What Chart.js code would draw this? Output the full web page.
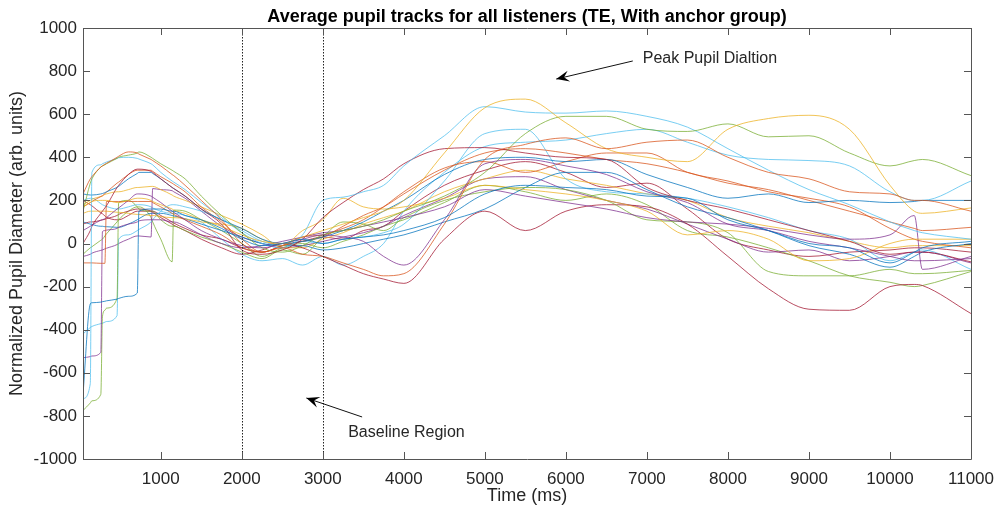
<!DOCTYPE html>
<html>
<head>
<meta charset="utf-8">
<script src="https://cdn.jsdelivr.net/npm/chart.js@4.4.1/dist/chart.umd.min.js"></script>
<style>
  html, body { margin: 0; background: #fff; }
</style>
</head>
<body>
<canvas id="chart" width="1004" height="515"></canvas>
<script>
// sample times (ms), shared by every listener track
const time = [
  40, 130, 150, 260, 280, 310, 330, 460, 480, 600, 710, 730, 880, 900, 1000, 1140, 1160, 1300,
  1500, 1750, 2000, 2250, 2500, 2750, 3000, 3250, 3500, 3750, 4000,
  4500, 5000, 5500, 6000, 6500, 7000, 7500, 8000, 8500, 9000, 9500, 10000, 10300, 10400, 11000
];

// normalized pupil diameter per listener
const lb1 = [-720, -650, 330, 365, 370, 375, 378, 395, 398, 400, 395, 392, 370, 365, 330, 290, 285, 250,
  190, 120, 50, 0, -20, 40, 200, 215, 240, 270, 360,
  500, 635, 610, 605, 615, 590, 540, 440, 340, 250, 180, 100, 60, 50, 20];
const yel1 = [170, 190, 195, 200, 200, 200, 200, 190, 190, 200, 210, 210, 200, 195, 180, 160, 155, 140,
  110, 80, 40, 10, 0, 30, 60, 90, 120, 150, 200,
  420, 630, 670, 560, 440, 400, 380, 530, 580, 595, 530, 270, 150, 140, 165];
const grn1 = [150, 280, 300, 355, 360, 365, 370, 395, 400, 410, 420, 425, 400, 395, 370, 340, 335, 300,
  220, 130, 50, -20, -40, -10, 40, 60, 80, 110, 150,
  220, 330, 510, 590, 590, 530, 520, 555, 495, 500, 420, 360, 385, 390, 315];
const lb2 = [-420, -390, -385, -372, -370, -365, -362, -335, 20, 40, 60, 65, 100, 110, 150, 180, 180, 170,
  150, 110, 60, 10, -10, 10, 0, 20, 30, 50, 90,
  290, 510, 530, 300, 240, 230, 210, 170, 120, 60, 20, -80, -40, -30, -120];
const lb3 = [200, 210, 210, 185, 180, 175, 172, 160, 160, 170, 180, 180, 170, 165, 150, 140, 140, 130,
  100, 20, -50, -80, -70, -100, -60, -100, -60, 0, 150,
  330, 450, 470, 480, 510, 530, 470, 410, 390, 385, 360, 240, 200, 200, 290];
const dr1 = [0, 60, 80, 140, 150, 165, 175, 260, 270, 320, 345, 345, 335, 330, 300, 260, 255, 220,
  160, 90, -30, -50, -30, 20, 120, 190, 250, 300, 370,
  440, 445, 420, 400, 390, 260, 200, 160, 110, 60, 10, -50, -40, -40, -85];
const dr2 = [90, 100, 100, 108, 110, 112, 115, 130, 135, 150, 160, 160, 150, 145, 120, 90, 85, 60,
  20, -20, -50, -30, 0, -20, -60, -100, -140, -165, -185,
  20, 150, 60, 150, 180, 170, 90, -60, -210, -305, -310, -200, -190, -195, -325];
const or1 = [230, 300, 310, 355, 360, 368, 372, 400, 405, 425, 420, 415, 390, 385, 360, 320, 315, 270,
  200, 110, 0, -40, -20, -50, -60, -90, -120, -150, -140,
  90, 390, 460, 490, 440, 470, 480, 400, 330, 300, 240, 230, 200, 200, 150];
const pu1 = [60, 80, 85, 108, 110, 115, 120, 160, 165, 200, 230, 230, 220, 215, 190, 150, 145, 110,
  60, 20, -10, -20, 0, 20, 40, 30, 10, -60, -100,
  110, 370, 390, 360, 320, 240, 190, 90, 60, 10, -20, -60, -80, -80, -70];
const pu2 = [-530, -525, -522, -505, 55, 60, 62, 70, 75, 90, 100, 105, 110, 110, 110, 100, 100, 80,
  40, 0, -20, -10, 10, 30, 50, 60, 80, 100, 120,
  170, 250, 220, 190, 160, 120, 100, 90, 70, 40, 20, 40, 130, -120, -60];
const pu3 = [-60, -50, -45, -32, -30, -25, -22, -5, 0, 20, 35, 35, 30, 255, 250, 245, 240, 210,
  150, 80, 30, 0, -20, -10, 10, 30, 50, 80, 130,
  210, 300, 310, 250, 200, 160, 90, 20, -40, -30, -80, -60, -40, -40, -90];
const bl1 = [-700, -280, -275, -272, -270, -268, -266, -258, -255, -245, -230, 150, 160, 160, 160, 150, 150, 130,
  110, 70, 20, -10, 0, 20, 0, 20, 30, 40, 60,
  120, 230, 270, 260, 250, 220, 210, 110, 60, 0, -20, -90, -40, -20, 10];
const bl2 = [230, 225, 225, 230, 232, 236, 240, 260, 265, 300, 325, 330, 330, 325, 300, 260, 255, 220,
  160, 110, 70, 20, 0, 10, 30, 60, 100, 150, 200,
  320, 390, 400, 380, 390, 320, 260, 210, 230, 190, 200, 190, 195, 200, 200];
const bl3 = [100, 90, 88, 80, 80, 78, 78, 75, 75, 90, 110, 115, 140, 140, 140, 130, 128, 115,
  90, 60, 30, 0, -10, -10, -30, -20, 0, 20, 40,
  100, 160, 260, 330, 330, 250, 170, 120, 60, -10, -50, -110, -60, -40, 0];
const or2 = [-90, -90, -90, -92, -92, -92, 195, 195, 195, 195, 195, 195, 195, 190, 170, 140, 135, 110,
  80, 40, -20, -40, -10, 10, 30, 80, 130, 170, 230,
  340, 420, 440, 420, 390, 370, 330, 280, 250, 200, 150, 100, 70, 60, 75];
const gr2 = [-775, -740, -730, -700, -340, -310, -300, -255, 190, 200, 170, 160, 150, 150, 110, 80, 80, 60,
  30, 0, -40, -70, -30, -50, 30, 100, 90, 60, 120,
  200, 240, 260, 250, 200, 110, 100, 50, -130, -150, -150, -120, -140, -140, -125];
const gr3 = [-50, -20, -15, 15, 20, 35, 45, 100, 110, 150, 170, 170, 120, 100, 20, -85, 155, 150,
  110, 60, 0, -60, -20, 0, -20, 10, 40, 80, 110,
  190, 270, 240, 200, 230, 180, 60, 30, -20, -80, -150, -180, -200, -195, -130];
const yel2 = [140, 150, 150, 150, 150, 150, 150, 145, 145, 140, 135, 135, 130, 130, 125, 120, 120, 115,
  100, 90, 70, 20, -10, 60, 110, 210, 170, 160, 170,
  210, 270, 250, 230, 200, 150, 40, 60, 20, -80, -70, 0, 20, 20, 20];
const yel3 = [180, 200, 205, 218, 220, 228, 230, 240, 240, 250, 260, 260, 265, 265, 250, 225, 220, 200,
  170, 130, 90, 40, -20, -20, 20, 50, 90, 120, 150,
  240, 300, 340, 300, 270, 230, 200, 120, 80, 50, 10, -20, -10, -10, -10];
const or3 = [170, 190, 195, 218, 222, 232, 238, 280, 285, 320, 340, 340, 340, 335, 310, 280, 275, 240,
  170, 100, 20, -40, -10, 30, 40, 70, 110, 170, 240,
  350, 380, 330, 380, 420, 420, 330, 290, 240, 210, 170, 70, 20, 10, -20];
const dr3 = [200, 180, 175, 142, 138, 128, 122, 110, 110, 130, 150, 150, 150, 150, 130, 100, 95, 70,
  40, 20, -20, -40, -10, 10, 30, 20, 60, 80, 150,
  270, 340, 380, 330, 260, 280, 160, 20, -30, -60, -40, -30, -20, -20, -40];

const tracks = [bl1, or1, yel1, pu1, grn1, lb1, dr1,
                bl2, or2, yel2, pu2, gr2, lb2, dr2,
                bl3, or3, yel3, pu3, gr3, lb3, dr3];

// MATLAB default line colours
const colors = ['#0072BD', '#D95319', '#EDB120', '#7E2F8E', '#77AC30', '#4DBEEE', '#A2142F'];

const xTicks = [1000, 2000, 3000, 4000, 5000, 6000, 7000, 8000, 9000, 10000, 11000];
const yTicks = [-1000, -800, -600, -400, -200, 0, 200, 400, 600, 800, 1000];
const baseline = [2000, 3000];

const FONT = '"Liberation Sans", Arial, Helvetica, sans-serif';
const INK = '#262626';

function arrow(ctx, x1, y1, x2, y2) {
  ctx.beginPath();
  ctx.moveTo(x1, y1);
  ctx.lineTo(x2, y2);
  ctx.stroke();
  const a = Math.atan2(y2 - y1, x2 - x1);
  const len = 13, half = 5.5, notch = 8;
  const bx = x2 - len * Math.cos(a), by = y2 - len * Math.sin(a);
  const nx = x2 - notch * Math.cos(a), ny = y2 - notch * Math.sin(a);
  const px = -Math.sin(a), py = Math.cos(a);
  ctx.beginPath();
  ctx.moveTo(x2, y2);
  ctx.lineTo(bx + px * half, by + py * half);
  ctx.lineTo(nx, ny);
  ctx.lineTo(bx - px * half, by - py * half);
  ctx.closePath();
  ctx.fill();
}

const decor = {
  id: 'decor',
  afterDatasetsDraw(chart) {
    const { ctx, chartArea: a, scales: { x, y } } = chart;
    ctx.save();

    // dotted markers of the baseline window
    ctx.strokeStyle = '#222';
    ctx.lineWidth = 1;
    ctx.setLineDash([1.5, 1.5]);
    baseline.forEach(t => {
      const px = Math.round(x.getPixelForValue(t)) + 0.5;
      ctx.beginPath();
      ctx.moveTo(px, a.top);
      ctx.lineTo(px, a.bottom);
      ctx.stroke();
    });
    ctx.setLineDash([]);

    // box with inward ticks
    ctx.strokeStyle = '#555';
    ctx.beginPath();
    ctx.rect(Math.round(a.left) + 0.5, Math.round(a.top) + 0.5,
             Math.round(a.right - a.left), Math.round(a.bottom - a.top));
    ctx.stroke();
    const tl = 7;
    ctx.beginPath();
    xTicks.forEach(t => {
      const px = Math.round(x.getPixelForValue(t)) + 0.5;
      ctx.moveTo(px, a.bottom); ctx.lineTo(px, a.bottom - tl);
      ctx.moveTo(px, a.top); ctx.lineTo(px, a.top + tl);
    });
    yTicks.forEach(v => {
      const py = Math.round(y.getPixelForValue(v)) + 0.5;
      ctx.moveTo(a.left, py); ctx.lineTo(a.left + tl, py);
      ctx.moveTo(a.right, py); ctx.lineTo(a.right - tl, py);
    });
    ctx.stroke();

    // annotations
    ctx.strokeStyle = '#111';
    ctx.fillStyle = '#000';
    ctx.lineWidth = 1;
    arrow(ctx, x.getPixelForValue(6826), y.getPixelForValue(847),
               x.getPixelForValue(5881), y.getPixelForValue(763));
    arrow(ctx, x.getPixelForValue(3485), y.getPixelForValue(-805),
               x.getPixelForValue(2797), y.getPixelForValue(-717));
    ctx.fillStyle = INK;
    ctx.font = '16px ' + FONT;
    ctx.textAlign = 'left';
    ctx.textBaseline = 'alphabetic';
    ctx.fillText('Peak Pupil Dialtion', x.getPixelForValue(6949), y.getPixelForValue(838));
    ctx.fillText('Baseline Region', x.getPixelForValue(3313), y.getPixelForValue(-898));

    // title centred over the axes
    ctx.fillStyle = '#000';
    ctx.font = 'bold 18px ' + FONT;
    ctx.textAlign = 'center';
    ctx.fillText('Average pupil tracks for all listeners (TE, With anchor group)',
                 (a.left + a.right) / 2, 22);
    ctx.restore();
  }
};

new Chart(document.getElementById('chart'), {
  type: 'line',
  data: {
    datasets: tracks.map((vals, i) => ({
      data: vals.map((v, k) => ({ x: time[k], y: v })),
      borderColor: colors[i % colors.length] + 'C0',
      borderWidth: 1,
      pointRadius: 0,
      cubicInterpolationMode: 'monotone',
      fill: false
    }))
  },
  options: {
    responsive: false,
    animation: false,
    events: [],
    layout: { padding: { top: 28, right: 29, left: 0, bottom: 0 } },
    plugins: {
      legend: { display: false },
      tooltip: { enabled: false }
    },
    scales: {
      x: {
        type: 'linear',
        min: 40,
        max: 11000,
        afterBuildTicks: s => { s.ticks = xTicks.map(v => ({ value: v })); },
        afterFit: s => { s.height = 56; },
        grid: { display: false, drawTicks: false },
        border: { display: false },
        ticks: { color: INK, font: { family: FONT, size: 17 }, padding: 10, maxRotation: 0, autoSkip: false,
                 callback: v => String(v) },
        title: { display: true, text: 'Time (ms)', color: INK, font: { family: FONT, size: 18 }, padding: { top: 0, bottom: 8 } }
      },
      y: {
        min: -1000,
        max: 1000,
        afterBuildTicks: s => { s.ticks = yTicks.map(v => ({ value: v })); },
        afterFit: s => { s.width = 83; },
        grid: { display: false, drawTicks: false },
        border: { display: false },
        ticks: { color: INK, font: { family: FONT, size: 17 }, padding: 6, autoSkip: false,
                 callback: v => String(v) },
        title: { display: true, text: 'Normalized Pupil Diameter (arb. units)', color: INK, font: { family: FONT, size: 18 }, padding: { top: 6, bottom: 0 } }
      }
    }
  },
  plugins: [decor]
});
</script>
</body>
</html>
